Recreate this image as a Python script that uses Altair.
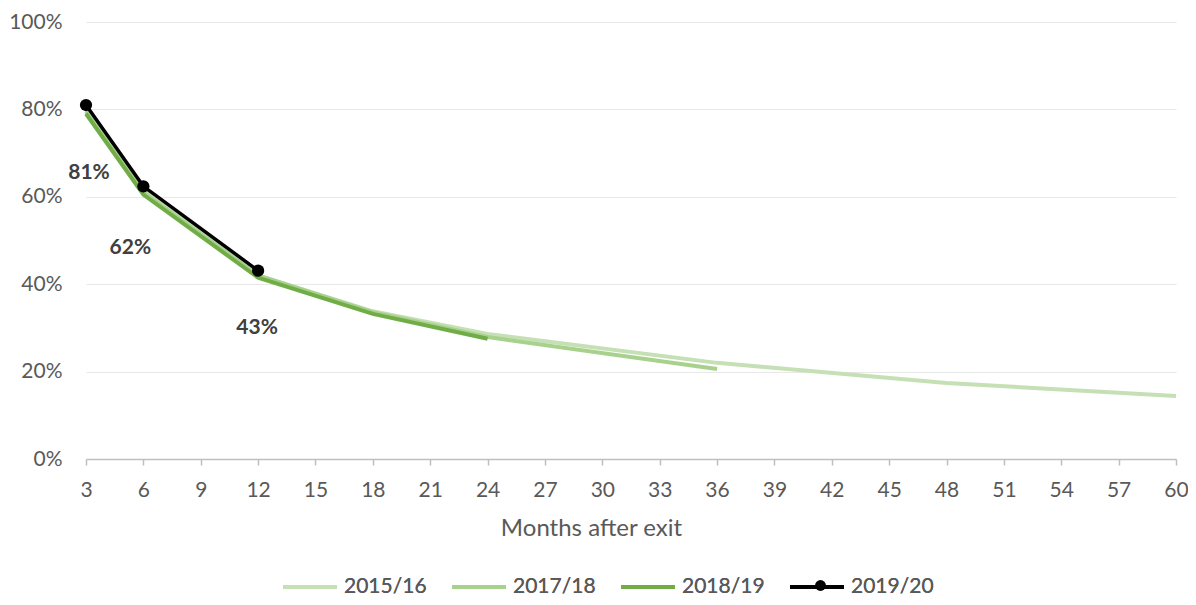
import altair as alt
import pandas as pd

# ---- data ----
series_names = ["2015/16", "2017/18", "2018/19", "2019/20"]
series_colors = ["#c5e0b4", "#a9d18e", "#70ad47", "#000000"]

months_1516 = [3, 6, 12, 18, 24, 36, 48, 60]
rates_1516 = [0.800, 0.615, 0.420, 0.338, 0.286, 0.220, 0.174, 0.144]

months_1718 = [3, 6, 12, 18, 24, 36]
rates_1718 = [0.795, 0.610, 0.420, 0.336, 0.279, 0.206]

months_1819 = [3, 6, 12, 18, 24]
rates_1819 = [0.790, 0.605, 0.415, 0.332, 0.275]

months_1920 = [3, 6, 12]
rates_1920 = [0.810, 0.624, 0.431]

x_ticks = list(range(3, 61, 3))
y_ticks = [0, 0.2, 0.4, 0.6, 0.8, 1.0]

rows = []
for name, ms, vs in [
    ("2015/16", months_1516, rates_1516),
    ("2017/18", months_1718, rates_1718),
    ("2018/19", months_1819, rates_1819),
    ("2019/20", months_1920, rates_1920),
]:
    for m, v in zip(ms, vs):
        rows.append({"series": name, "month": m, "rate": v})
df = pd.DataFrame(rows)

FONT = "Lato"
TXT = "#595959"

x_enc = alt.X(
    "month:Q",
    scale=alt.Scale(domain=[3, 60], nice=False, zero=False),
    axis=alt.Axis(
        values=x_ticks, title="Months after exit", grid=False,
        domainColor="#bfbfbf", domainWidth=1.5, tickColor="#bfbfbf",
        tickSize=6, tickWidth=1.5, labelPadding=14, labelFontSize=21,
        labelColor=TXT, labelFont=FONT, labelFlush=False,
        titleFontSize=24, titleColor=TXT, titleFont=FONT,
        titleFontWeight="normal", titlePadding=16,
        titleX=505, titleAlign="center",
    ),
)
y_enc = alt.Y(
    "rate:Q",
    scale=alt.Scale(domain=[0, 1], nice=False),
    axis=alt.Axis(
        values=y_ticks, format=".0%", title=None, domain=False, ticks=False,
        gridColor="#e8e8e8", gridWidth=1.2, labelPadding=24,
        labelFontSize=21, labelColor=TXT, labelFont=FONT,
    ),
)

color_enc = alt.Color(
    "series:N",
    scale=alt.Scale(domain=series_names, range=series_colors),
    legend=alt.Legend(
        orient="none", legendX=195, legendY=536, direction="horizontal",
        columns=4, title=None, symbolType="stroke", symbolSize=2916,
        symbolStrokeWidth=4, labelFont=FONT, labelFontSize=21,
        labelColor=TXT, labelOffset=5, columnPadding=17, padding=0,
    ),
)

base = alt.Chart(df)

greens = base.transform_filter(alt.datum.series != "2019/20").mark_line(
    strokeWidth=4
).encode(x=x_enc, y=y_enc, color=color_enc, order="month:Q")

black_line = base.transform_filter(alt.datum.series == "2019/20").mark_line(
    strokeWidth=3.5
).encode(x=x_enc, y=y_enc, color=color_enc, order="month:Q")

black_pts = base.transform_filter(alt.datum.series == "2019/20").mark_point(
    filled=True, size=150, opacity=1, color="#000000"
).encode(
    x=x_enc, y=y_enc,
    shape=alt.Shape(
        "series:N",
        scale=alt.Scale(domain=["2019/20"], range=["circle"]),
        legend=alt.Legend(
            orient="none", legendX=724, legendY=553, title=None,
            labelExpr="''", symbolSize=120, symbolFillColor="#000000",
            symbolStrokeWidth=0, padding=0, labelFontSize=21,
        ),
    ),
)

lab_base = base.transform_filter(alt.datum.series == "2019/20").transform_calculate(
    label="format(datum.rate, '.0%')"
)
lab_style = dict(font=FONT, fontSize=21, fontWeight="bold", color="#404040",
                 align="center", baseline="middle")
lab1 = lab_base.transform_filter(alt.datum.month == 3).mark_text(
    dx=3, dy=68, **lab_style).encode(x=x_enc, y=y_enc, text="label:N")
lab2 = lab_base.transform_filter(alt.datum.month == 6).mark_text(
    dx=-13, dy=62, **lab_style).encode(x=x_enc, y=y_enc, text="label:N")
lab3 = lab_base.transform_filter(alt.datum.month == 12).mark_text(
    dx=-1, dy=57, **lab_style).encode(x=x_enc, y=y_enc, text="label:N")

chart = alt.layer(greens, black_line, black_pts, lab1, lab2, lab3).resolve_legend(
    color="independent", shape="independent"
).properties(
    width=1090, height=437,
    autosize=alt.AutoSizeParams(type="none"),
    padding={"left": 78, "top": 14, "right": 12, "bottom": 138},
).configure(font=FONT).configure_view(stroke=None)

chart.save("out.html", embed_options={"renderer": "svg", "actions": False})
